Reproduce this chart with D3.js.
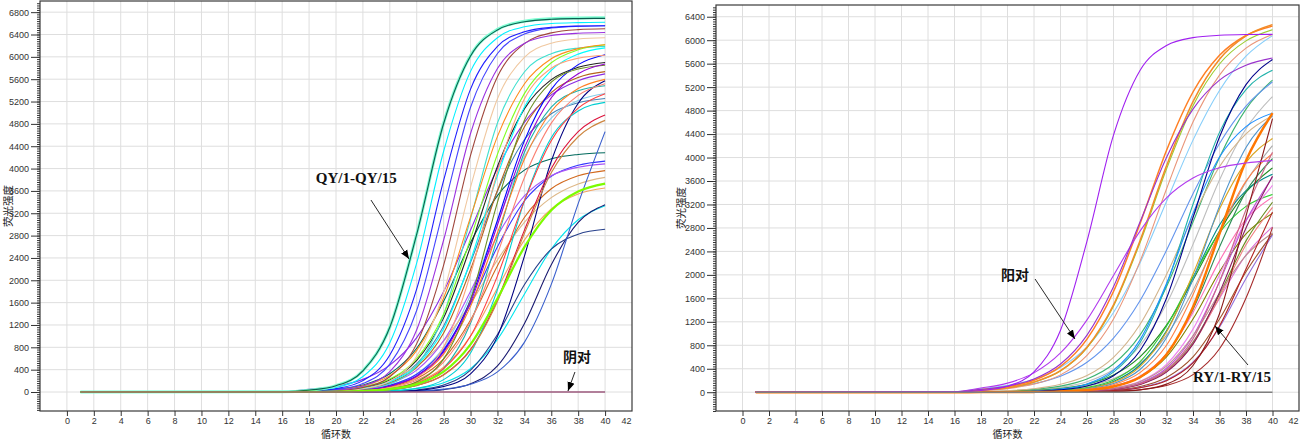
<!DOCTYPE html>
<html><head><meta charset="utf-8">
<script src="https://cdn.jsdelivr.net/npm/d3@7/dist/d3.min.js"></script>
<style>
body{margin:0;background:#fff}
svg{display:block}
.tk text{font-family:"Liberation Sans Narrow","Liberation Sans",Arial,sans-serif;font-size:9px;fill:#333}
.tk line{stroke:#333}
.tk path{display:none}
</style>
</head><body>
<svg id="c" width="1300" height="440"></svg>
<script>
// ---------------- data ----------------
const cycles = [1,16,18,20,22,24,26,28,30,32,34,36,38,40];
const xTicks = [0,2,4,6,8,10,12,14,16,18,20,22,24,26,28,30,32,34,36,38,40,42];
const leftYTicks = [0,400,800,1200,1600,2000,2400,2800,3200,3600,4000,4400,4800,5200,5600,6000,6400,6800];
const rightYTicks = [0,400,800,1200,1600,2000,2400,2800,3200,3600,4000,4400,4800,5200,5600,6000,6400];
const yTitle = "荧光强度";
const xTitle = "循环数";

// left panel: QY/1-QY/15 samples (fluorescence at each cycle in `cycles`)
const LA  = [0,3,33,114,380,1161,2831,4815,6024,6492,6639,6683,6695,6699];
const L01 = [0,3,33,113,379,1159,2827,4807,6015,6482,6629,6673,6685,6689];
const L02 = [0,2,24,82,278,880,2310,4310,5740,6342,6538,6596,6613,6620];
const L03 = [0,2,17,60,204,662,1846,3788,5423,6188,6449,6528,6551,6557];
const L04 = [0,1,12,44,151,499,1463,3280,5097,6061,6409,6516,6547,6556];
const L05 = [0,1,9,32,109,365,1116,2721,4628,5790,6240,6381,6423,6435];
const L06 = [0,1,7,23,81,273,866,2272,4238,5644,6237,6429,6487,6503];
const L07 = [0,1,5,17,58,197,641,1787,3667,5250,5990,6243,6319,6341];
const L08 = [0,2,16,42,113,294,745,1684,3130,4576,5515,5966,6147,6218];
const L09 = [0,1,12,33,88,232,596,1398,2746,4257,5342,5894,6126,6216];
const L10 = [0,0,3,12,42,143,471,1383,3100,4817,5729,6057,6158,6188];
const L11 = [0,1,9,26,69,181,473,1134,2355,3875,5096,5757,6049,6161];
const L12 = [0,1,6,15,41,111,289,732,1654,3075,4496,5418,5861,6039];
const L13 = [0,0,3,8,23,61,160,418,1001,2079,3421,4499,5082,5341];
const L14 = [0,1,11,31,83,220,565,1327,2606,4040,5069,5593,5813,5899];
const L15 = [0,1,9,24,64,168,441,1056,2192,3608,4744,5359,5632,5736];
const L16 = [0,1,5,14,38,103,268,678,1533,2850,4167,5022,5432,5597];
const L17 = [0,5,48,104,226,481,974,1798,2900,4002,4826,5319,5574,5696];
const L18 = [0,0,4,11,29,79,209,537,1260,2475,3836,4814,5311,5520];
const L19 = [0,0,1,3,10,37,127,420,1231,2760,4289,5100,5393,5483];
const L20 = [0,0,1,2,5,19,65,221,698,1832,3418,4552,5030,5185];
const L21 = [0,0,2,6,16,44,118,309,762,1653,2894,4002,4661,4959];
const L22 = [0,0,0,1,2,8,28,97,326,996,2429,4132,5170,5571];
const L23 = [0,0,0,1,2,7,19,52,138,360,888,1926,3372,4662];
const L24 = [0,0,0,0,1,4,13,43,147,466,1222,2279,3035,3353];
const L25 = [0,0,0,1,3,11,37,124,392,1030,1920,2558,2826,2913];
const L26 = [0,2,18,47,125,327,783,1625,2675,3517,3973,4175,4253,4282];
const L27 = [0,1,6,17,46,121,318,761,1580,2600,3419,3862,4059,4134];
const L28 = [0,1,8,21,58,152,391,919,1805,2797,3510,3873,4025,4085];
const L29 = [0,1,5,13,35,92,241,595,1290,2259,3124,3638,3871,3964];
const L30 = [0,3,22,47,107,225,470,912,1584,2366,3038,3480,3725,3843];
const L31 = [0,0,3,7,20,53,141,363,852,1673,2594,3255,3591,3732];
const L32 = [0,0,3,9,25,67,175,443,1001,1860,2719,3277,3545,3653];
const L33 = [0,0,1,3,9,23,63,165,417,942,1750,2559,3084,3336];
const L34 = [0,1,7,17,47,125,325,802,1740,3046,4211,4905,5219,5344];
const L35 = [0,0,1,4,15,54,183,593,1655,3396,4861,5547,5781,5851];
const L36 = [0,0,2,6,16,43,116,303,747,1621,2838,3924,4570,4863];
const L37 = [0,1,5,15,40,108,281,712,1609,2990,4371,5268,5699,5872];
const L38 = [0,0,2,6,22,75,254,805,2111,3939,5245,5796,5975,6028];
const L39 = [0,1,10,28,74,196,504,1182,2321,3599,4516,4982,5178,5254];
const LNEG = [0,0,0,0,0,0,0,0,0,0,0,0,0,0];   // 阴对

// right panel: 阳对 (purple) + RY/1-RY/15 samples
const R01 = [0,3,30,103,346,1057,2577,4383,5485,5910,6044,6084,6096,6099];
const R02 = [0,5,48,104,226,481,974,1798,2900,4002,4826,5319,5574,5696];
const R03 = [0,8,72,155,330,669,1234,1990,2746,3311,3650,3825,3908,3948];
const R05 = [0,4,35,77,174,367,766,1488,2582,3858,4952,5674,6073,6266];
const R06 = [0,5,43,94,204,440,906,1716,2871,4121,5117,5742,6080,6240];
const R07 = [0,4,35,76,171,362,756,1467,2546,3804,4883,5594,5988,6179];
const R08 = [0,3,28,62,139,296,630,1247,2230,3465,4605,5405,5865,6098];
const R09 = [0,8,60,117,221,423,774,1359,2204,3250,4297,5142,5727,6078];
const R10 = [0,5,39,75,145,273,510,922,1560,2419,3381,4240,4878,5290];
const R11 = [0,0,2,5,15,40,107,280,708,1601,2975,4349,5242,5670];
const R12 = [0,0,2,7,18,49,131,342,844,1830,3203,4429,5159,5489];
const R13 = [0,1,10,21,48,104,226,481,974,1798,2900,4002,4826,5319];
const R14 = [0,1,8,17,38,83,179,386,795,1506,2520,3618,4491,5040];
const R15 = [0,2,13,28,60,135,285,595,1155,2005,2995,3845,4405,4715];
const R16 = [0,0,1,2,5,14,36,97,254,643,1453,2700,3947,4757];
const R17 = [0,0,0,0,1,2,6,16,43,115,300,740,1605,2810];
const R18 = [0,0,0,0,1,4,11,28,76,197,500,1130,2100,3070];
const R19 = [0,0,0,1,2,7,18,50,131,342,819,1701,2799,3681];
const R20 = [0,0,0,1,4,10,27,72,188,476,1076,2000,2924,3524];
const R21 = [0,0,1,2,5,15,40,104,274,655,1361,2239,2945,3326];
const R22 = [0,0,1,2,5,14,36,96,251,601,1247,2053,2699,3049];
const R23 = [0,0,1,2,5,14,38,101,264,651,1412,2473,3419,3982];
const R24 = [0,0,1,3,9,24,64,170,437,1026,2015,3123,3919,4324];
const R25 = [0,0,0,1,3,8,22,60,159,409,959,1883,2920,3664];
const R26 = [0,0,1,3,8,21,56,148,388,928,1928,3172,4172,4712];
const R27 = [0,0,1,4,10,26,70,183,464,1049,1950,2851,3436,3717];
const R28 = [0,0,1,4,11,30,81,210,518,1124,1967,2720,3168,3371];
const R29 = [0,0,0,1,3,8,21,58,150,381,861,1600,2339,2819];
const R30 = [0,0,1,1,4,10,26,69,180,444,963,1686,2331,2715];
const R31 = [0,0,0,1,2,5,14,36,96,251,601,1247,2053,2699];
const R32 = [0,0,3,7,20,54,142,372,892,1852,3048,4008,4528,4758];
const R33 = [0,1,6,13,28,63,136,293,604,1143,1913,2746,3409,3825];
const R34 = [0,0,0,1,3,7,19,52,137,352,825,1621,2512,3152];
const R35 = [0,0,0,1,1,4,11,30,79,207,511,1107,1939,2681];
const R36 = [0,1,4,10,22,49,108,230,490,970,1735,2695,3582,4204];
const R37 = [0,0,0,0,0,1,3,11,40,138,456,1338,3000,4662];
const R38 = [0,0,1,2,7,18,48,128,334,801,1663,2737,3599,4066];
const R39 = [0,0,0,1,3,7,20,53,141,361,847,1664,2580,3238];
const R40 = [0,0,0,1,3,8,21,55,145,380,910,1890,3110,4090];
const RNEG = [0,0,0,0,0,0,0,0,0,0,0,0,0,0];

// annotations in data coordinates [cycle, fluorescence]
const leftNotes = [
  {text:"QY/1-QY/15", at:[18.5,3734], from:[22.6,3437], to:[25.43,2381], serif:true},
  {text:"阴对", at:[37.91,537], from:[37.76,358], to:[37.24,18], serif:false, mid:true}
];
const rightNotes = [
  {text:"阳对", at:[20.57,1913], from:[22.08,1930], to:[25.09,907], serif:false, mid:true},
  {text:"RY/1-RY/15", at:[34.0,174], from:[38.15,464], to:[35.66,1129], serif:true}
];

// ---------------- styles ----------------
const leftSeries = [L17,L39,L34,L30,L26,L27,L28,L29,L32,L33,L24,L25,L23,L22,L21,L20,L19,L18,L36,L16,L15,L14,L13,L12,L11,L10,L38,L35,L37,L09,L08,L07,L06,L05,L04,L03,L02,LA,L01,L31,LNEG];
const leftColors = ["#8a2be2","#4682b4","#87ceeb","#deb887","#00695c","#3333ff","#a855f7","#d2691e","#f4a460","#00e5ee","#191970","#27408b","#3a5fcd","#000080","#dc143c","#00ced1","#20b2aa","#fa8072","#cd853f","#ff7f24","#b5651d","#222222","#ff4040","#0000ff","#00ffff","#40e0d0","#ffa07a","#6b8e23","#9400d3","#80ff20","#ff8c1a","#f0c8a0","#a0463c","#9b30e0","#4545ff","#1f1fff","#00f0ff","#7fffd4","#0b5e4f","#7cfc00","#9c5a7e"];
const leftWidths = leftSeries.map(s => s===LA ? 3 : (s===L31 ? 2.2 : (s===LNEG ? 1.4 : 1.1)));

const rightSeries = [R14,R36,R13,R33,R15,R10,R09,R12,R27,R28,R24,R26,R32,R23,R38,R21,R22,R20,R29,R25,R39,R34,R30,R31,R19,R40,R35,R11,R18,R17,R37,R16,R08,R07,R06,R05,R03,R02,R01,RNEG];
const rightColors = ["#bdbdbd","#a9a9a9","#3cb371","#228b22","#d2b48c","#6495ed","#87cefa","#20b2aa","#008b8b","#32cd32","#daa520","#4f94cd","#1e90ff","#2e8b57","#ff8247","#ff6eb4","#808000","#ee82ee","#da70d6","#ba55d3","#6b8e23","#f08080","#bc8f8f","#a0522d","#8b1c62","#cd6889","#9370db","#00008b","#b22222","#a52a2a","#8b1a1a","#ff7700","#e9967a","#9acd32","#ff7f24","#f28c28","#b23aee","#9932cc","#a020f0","#7f7f7f"];
const rightWidths = rightSeries.map(s => s===R16 ? 2.4 : (s===R05||s===R06 ? 1.5 : (s===RNEG ? 1.4 : 1.1)));

// ---------------- drawing ----------------
const svg = d3.select("#c");
const defs = svg.append("defs");
defs.append("marker").attr("id","ah").attr("viewBox","0 0 10 10")
  .attr("refX",10).attr("refY",5).attr("markerWidth",9).attr("markerHeight",9)
  .attr("markerUnits","userSpaceOnUse").attr("orient","auto")
  .append("path").attr("d","M0,1 L10,5 L0,9 Z").attr("fill","#000");

function panel(cfg){
  const x = d3.scaleLinear().domain([-2,42]).range([cfg.left, cfg.right]);
  const y = d3.scaleLinear().domain(cfg.yDomain).range([cfg.bottom, cfg.top]);
  const g = svg.append("g");
  const cid = "clip" + cfg.id;
  defs.append("clipPath").attr("id",cid).append("rect")
    .attr("x",cfg.left).attr("y",cfg.top).attr("width",cfg.right-cfg.left).attr("height",cfg.bottom-cfg.top);

  // grid
  const grid = g.append("g").attr("clip-path",`url(#${cid})`);
  grid.selectAll("line.v").data(xTicks.filter(t=>t<42)).join("line")
    .attr("x1",d=>x(d)).attr("x2",d=>x(d)).attr("y1",cfg.top).attr("y2",cfg.bottom)
    .attr("stroke","#dedede").attr("stroke-width",1);
  grid.selectAll("line.h").data(cfg.yTicks).join("line")
    .attr("x1",cfg.left).attr("x2",cfg.right).attr("y1",d=>y(d)).attr("y2",d=>y(d))
    .attr("stroke","#dedede").attr("stroke-width",1);

  // curves
  const line = d3.line().x((d,i)=>x(cycles[i])).y(d=>y(d)).curve(d3.curveMonotoneX);
  g.append("g").attr("clip-path",`url(#${cid})`).selectAll("path").data(cfg.series).join("path")
    .attr("d",line).attr("fill","none")
    .attr("stroke",(d,i)=>cfg.colors[i]).attr("stroke-width",(d,i)=>cfg.widths[i])
    .attr("stroke-linejoin","round");

  // frame
  g.append("rect").attr("x",cfg.left).attr("y",cfg.top).attr("width",cfg.right-cfg.left)
    .attr("height",cfg.bottom-cfg.top).attr("fill","none").attr("stroke","#3a3a3a").attr("stroke-width",1.2);

  // y axis: minor + major
  g.append("g").attr("class","tk").attr("transform",`translate(${cfg.left},0)`)
    .call(d3.axisLeft(y).tickValues(d3.range(Math.ceil(cfg.yDomain[0]/40)*40, cfg.yDomain[1], 40)).tickSize(3).tickFormat(""));
  g.append("g").attr("class","tk").attr("transform",`translate(${cfg.left},0)`)
    .call(d3.axisLeft(y).tickValues(cfg.yTicks).tickSize(9).tickPadding(2).tickFormat(d3.format("d")));

  // x axis
  const xa = g.append("g").attr("class","tk").attr("transform",`translate(0,${cfg.bottom})`)
    .call(d3.axisBottom(x).tickValues(xTicks).tickSize(5).tickPadding(2).tickFormat(d3.format("d")));
  xa.selectAll(".tick").filter(d=>d===42).select("line").remove();
  xa.selectAll(".tick").filter(d=>d===42).select("text").attr("x",-6);

  // titles
  g.append("text").text(xTitle).attr("x",(cfg.left+cfg.right)/2).attr("y",438)
    .attr("text-anchor","middle").attr("font-family","Noto Sans CJK SC").attr("font-size",10).attr("fill","#222");
  g.append("text").text(yTitle)
    .attr("transform",`translate(${cfg.yTitleX},${(cfg.top+cfg.bottom)/2}) rotate(-90)`)
    .attr("text-anchor","middle").attr("font-family","Noto Sans CJK SC").attr("font-size",10.5).attr("fill","#222");

  // annotations
  cfg.notes.forEach(n=>{
    g.append("line").attr("x1",x(n.from[0])).attr("y1",y(n.from[1]))
      .attr("x2",x(n.to[0])).attr("y2",y(n.to[1]))
      .attr("stroke","#111").attr("stroke-width",0.9).attr("marker-end","url(#ah)");
    g.append("text").text(n.text).attr("x",x(n.at[0])).attr("y",y(n.at[1]))
      .attr("text-anchor",n.mid?"middle":"start")
      .attr("font-family",n.serif?"Liberation Serif, Times New Roman, serif":"Noto Sans CJK SC")
      .attr("font-weight","bold").attr("font-size",n.serif?15:14).attr("fill","#111");
  });
}

panel({id:"L", left:40, right:632, top:1, bottom:411, yDomain:[-340,7000], yTicks:leftYTicks,
  series:leftSeries, colors:leftColors, widths:leftWidths, notes:leftNotes, yTitleX:12});
panel({id:"R", left:716, right:1299, top:5, bottom:411, yDomain:[-320,6600], yTicks:rightYTicks,
  series:rightSeries, colors:rightColors, widths:rightWidths, notes:rightNotes, yTitleX:685});
</script>
</body></html>
